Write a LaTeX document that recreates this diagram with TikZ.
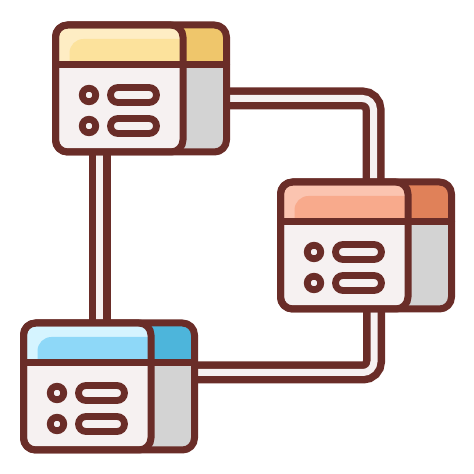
\documentclass[tikz,border=0pt]{standalone}
\usepackage{xcolor}
\usepackage{tikz}
\usetikzlibrary{calc}
\definecolor{ink}{HTML}{6A2D28}
\definecolor{bodyFront}{HTML}{F6F1F1}
\definecolor{bodyBack}{HTML}{D3D3D3}
\definecolor{yelLite}{HTML}{FEEDC4}
\definecolor{yelMid}{HTML}{FCE29C}
\definecolor{yelBack}{HTML}{EFC66B}
\definecolor{salLite}{HTML}{FBC4B0}
\definecolor{salMid}{HTML}{F8AA8C}
\definecolor{salBack}{HTML}{E08159}
\definecolor{bluLite}{HTML}{D5F4FF}
\definecolor{bluMid}{HTML}{8ED8F8}
\definecolor{bluBack}{HTML}{4DB5DB}
\tikzset{
  winBox/.style={minimum width=171pt, minimum height=127pt, inner sep=0pt, outer sep=0pt},
  winLine/.style={draw=ink, line width=7pt, line join=round, line cap=round},
  winDot/.style={draw=ink, line width=6.8pt},
  pipeLine/.style={draw=ink, line width=7.5pt, double=bodyFront, double distance=7pt, rounded corners=11pt}
}

\begin{document}
\begin{tikzpicture}[x=1pt,y=1pt]
  \fill[white] (0,0) rectangle (474,474);
  \useasboundingbox (0,0) rectangle (474,474);
  \node[winBox] (topWin) at (141,385.5) {};
  \node[winBox] (rightWin) at (366,228.5) {};
  \node[winBox] (botWin) at (109,87.5) {};

  % pipes run under the windows
  \coordinate (leftPipe) at ([xshift=-41.5pt]topWin.center);
  \draw[pipeLine] (leftPipe) -- (leftPipe |- botWin.center);
  \draw[pipeLine] ([yshift=-10pt]topWin.center) -| ([xshift=7.5pt]rightWin.center);
  \draw[pipeLine] ([yshift=14pt]botWin.center) -| ([xshift=8pt]rightWin.center);

  \foreach \w/\lite/\mid/\back in {topWin/yelLite/yelMid/yelBack, rightWin/salLite/salMid/salBack, botWin/bluLite/bluMid/bluBack}{
    \begin{scope}[shift={(\w.north west)}]
      \fill[bodyBack, rounded corners=12pt] (0,0) rectangle (171,-127);
      \begin{scope}
        \clip[rounded corners=12pt] (0,0) rectangle (171,-127);
        \fill[\back] (0,0) rectangle (171,-40);
      \end{scope}
      \fill[bodyFront, rounded corners=12pt] (0,0) rectangle (127.5,-127);
      \begin{scope}
        \clip[rounded corners=12pt] (0,0) rectangle (127.5,-127);
        \fill[\lite] (0,0) rectangle (127.5,-40);
        \fill[\mid] (14,-40) [rounded corners=14pt] -- (14,-14) [sharp corners] -- (127.5,-14) -- (127.5,-40) -- cycle;
      \end{scope}
      \draw[winLine, rounded corners=12pt] (0,0) rectangle (171,-127);
      \draw[winLine, rounded corners=12pt] (0,0) rectangle (127.5,-127);
      \draw[winLine] (0,-40) -- (171,-40);
      \foreach \y in {-70,-101}{
        \draw[winDot] (33.5,\y) circle (6.75);
        \draw[winDot, rounded corners=7.5pt] (55,\y+7.5) rectangle (101,\y-7.5);
      }
    \end{scope}
  }
\end{tikzpicture}
\end{document}
